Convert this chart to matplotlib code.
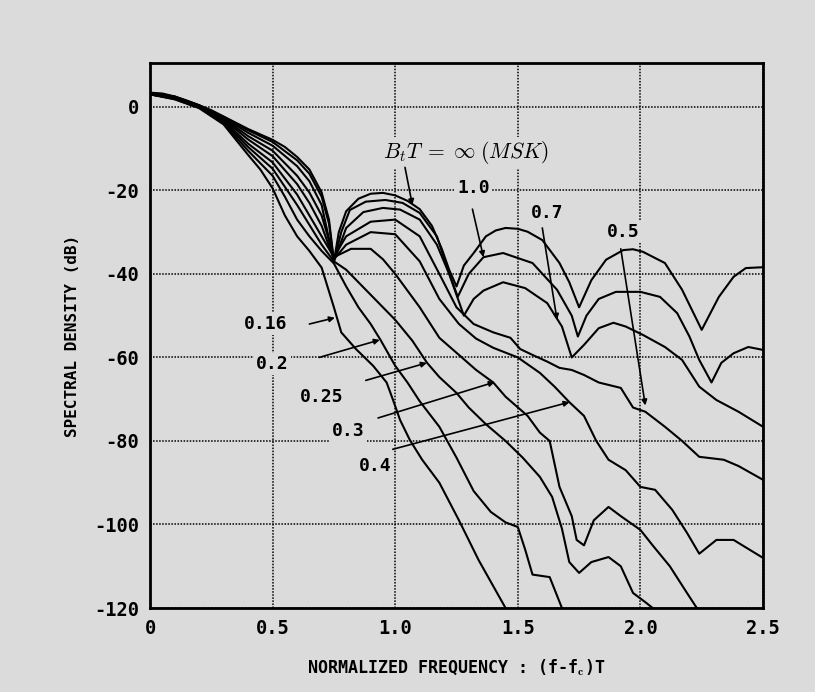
import matplotlib
matplotlib.use("Agg")
import matplotlib.pyplot as plt

# ── Curves ────────────────────────────────────────────────────────────────
# x: normalized frequency (f-fc)T, y: spectral density in dB
BT_LABELS = ["inf", "1.0", "0.7", "0.5", "0.4", "0.3", "0.25", "0.2", "0.16"]

X_MSK = [0, 0.05, 0.1, 0.15, 0.2, 0.25, 0.3, 0.35, 0.4, 0.45, 0.5, 0.55, 0.6,
         0.65, 0.7, 0.73, 0.75, 0.77, 0.8, 0.85, 0.9, 0.95, 1.0, 1.05, 1.1,
         1.15, 1.19, 1.22, 1.25, 1.28, 1.32, 1.37, 1.41, 1.45, 1.5, 1.54, 1.6,
         1.67, 1.71, 1.75, 1.8, 1.86, 1.93, 1.97, 2.01, 2.1, 2.17, 2.25, 2.32,
         2.38, 2.43, 2.5]
Y_MSK = [3.4, 3.2, 2.5, 1.5, 0.4, -0.8, -2.3, -3.8, -5.3, -6.6, -7.9, -9.6,
         -12.0, -15.0, -20.5, -27, -37, -30, -25, -22, -20.8, -20.6, -21.2,
         -22.5, -24.5, -28.5, -34, -39, -43, -38, -35, -31, -29.6, -29, -29.2,
         -29.9, -31.9, -37.4, -42, -48, -41.5, -36.6, -34.3, -34.1, -34.7,
         -37.4, -43.8, -53.4, -45.5, -40.7, -38.6, -38.4]

X_10 = [0, 0.1, 0.2, 0.3, 0.4, 0.5, 0.6, 0.65, 0.7, 0.73, 0.75, 0.78, 0.815,
        0.88, 0.96, 1.03, 1.1, 1.17, 1.215, 1.255, 1.3, 1.36, 1.44, 1.56, 1.66,
        1.72, 1.745, 1.78, 1.83, 1.9, 2.0, 2.08, 2.15, 2.2, 2.24, 2.29, 2.33,
        2.38, 2.44, 2.5]
Y_10 = [3.2, 2.5, 0.4, -2.4, -5.6, -8.4, -12.8, -16, -21.5, -28, -37, -30,
        -24.7, -22.7, -22.3, -23, -25.4, -31, -39, -45.5, -40, -36, -35, -37.4,
        -43.8, -50, -55, -50, -46, -44.3, -44.3, -45.5, -49.4, -55, -60.6, -66,
        -61.3, -59, -57.5, -58.2]

X_07 = [0, 0.1, 0.2, 0.3, 0.4, 0.5, 0.6, 0.65, 0.7, 0.75, 0.8, 0.87, 0.95,
        1.02, 1.1, 1.17, 1.22, 1.28, 1.32, 1.36, 1.44, 1.53, 1.62, 1.68, 1.72,
        1.77, 1.83, 1.89, 1.94, 2.01, 2.1, 2.17, 2.24, 2.31, 2.4, 2.5]
Y_07 = [3.0, 2.4, 0.3, -2.6, -6.2, -9.3, -14.2, -17.8, -23.5, -37, -29, -25.2,
        -24.2, -24.6, -27, -33, -40, -50, -46, -44, -42, -43.4, -47, -52.6, -60,
        -57, -53, -51.7, -52.6, -54.6, -57.5, -60.6, -67, -70.2, -73, -76.6]

X_05 = [0, 0.1, 0.2, 0.3, 0.4, 0.5, 0.6, 0.65, 0.7, 0.75, 0.8, 0.9, 1.0, 1.1,
        1.18, 1.25, 1.32, 1.4, 1.47, 1.51, 1.56, 1.62, 1.67, 1.72, 1.77, 1.83,
        1.92, 1.97, 2.02, 2.1, 2.17, 2.24, 2.34, 2.4, 2.5]
Y_05 = [3.0, 2.3, 0.2, -2.8, -7.0, -10.5, -16.5, -20.5, -26, -36, -31, -27.5,
        -27, -31, -40, -48, -52, -54, -55.3, -58, -59.4, -61, -62.5, -63, -64.2,
        -66, -67.3, -72, -73, -76.6, -80, -83.8, -84.5, -86, -89.3]

X_04 = [0, 0.1, 0.2, 0.3, 0.4, 0.5, 0.6, 0.65, 0.7, 0.75, 0.8, 0.9, 1.0, 1.1,
        1.18, 1.26, 1.33, 1.4, 1.5, 1.59, 1.65, 1.71, 1.77, 1.82, 1.87, 1.94,
        2.0, 2.06, 2.13, 2.19, 2.24, 2.31, 2.38, 2.5]
Y_04 = [3.0, 2.2, 0.1, -3.0, -7.8, -11.8, -18.5, -23, -28.5, -36.5, -33, -30,
        -30.5, -37, -46, -52, -55.5, -57.7, -60, -63.7, -67, -70.7, -74, -80,
        -84.5, -87, -91, -91.7, -96.5, -102, -107, -103.7, -103.7, -108]

X_03 = [0, 0.1, 0.2, 0.3, 0.4, 0.5, 0.6, 0.7, 0.75, 0.82, 0.9, 0.95, 1.0, 1.1,
        1.18, 1.26, 1.33, 1.4, 1.45, 1.54, 1.59, 1.63, 1.67, 1.72, 1.74, 1.77,
        1.81, 1.87, 1.92, 2.0, 2.05, 2.12, 2.19, 2.23]
Y_03 = [3.0, 2.1, 0.0, -3.3, -8.8, -13.3, -21, -31, -36, -34, -34, -36.5, -40,
        -48, -55.3, -59.4, -63, -66, -69.4, -74, -78, -80, -91, -98, -103.7,
        -105, -99, -95.8, -98, -101.3, -105, -110, -116.4, -120]

X_025 = [0, 0.1, 0.2, 0.3, 0.4, 0.5, 0.6, 0.7, 0.75, 0.8, 0.9, 1.0, 1.07, 1.13,
         1.18, 1.25, 1.3, 1.37, 1.45, 1.52, 1.59, 1.64, 1.68, 1.71, 1.75, 1.8,
         1.87, 1.92, 1.97, 2.02, 2.05]
Y_025 = [3.0, 2.0, -0.1, -3.6, -9.6, -14.8, -23.5, -33, -37, -39, -45, -51,
         -56, -61.3, -64.7, -68.5, -72, -76, -80, -84, -88.6, -93.4, -101, -109,
         -111.6, -109, -107.8, -110, -116.4, -118.6, -120]

X_02 = [0, 0.1, 0.2, 0.3, 0.4, 0.5, 0.55, 0.6, 0.65, 0.7, 0.75, 0.8, 0.85,
        0.9, 0.94, 1.0, 1.05, 1.1, 1.18, 1.25, 1.32, 1.39, 1.45, 1.5, 1.53,
        1.56, 1.63, 1.68]
Y_02 = [3.0, 1.9, -0.2, -3.9, -10.5, -16.5, -21.5, -27, -31, -34.5, -37.5,
        -43, -48, -52, -55.8, -62, -66, -70.5, -76.6, -84, -92, -97, -99.5,
        -100.6, -106, -112, -112.6, -120]

X_016 = [0, 0.1, 0.2, 0.3, 0.4, 0.45, 0.5, 0.55, 0.6, 0.65, 0.7, 0.75, 0.78,
         0.84, 0.91, 0.965, 0.99, 1.02, 1.06, 1.11, 1.18, 1.26, 1.34, 1.45]
Y_016 = [3.0, 1.8, -0.3, -4.2, -11.5, -15, -19.5, -26, -31, -34.5, -38.5, -48,
         -54, -58, -62, -66, -70, -75, -79.8, -84.5, -90, -99, -108.5, -120]

XTICKS = [0, 0.5, 1.0, 1.5, 2.0, 2.5]
XTICKLABELS = ["0", "0.5", "1.0", "1.5", "2.0", "2.5"]
YTICKS = [0, -20, -40, -60, -80, -100, -120]

BG = "#dadbda"
plt.rcParams["mathtext.fontset"] = "cm"
TXT = dict(family="DejaVu Sans Mono", fontweight="bold")

fig = plt.figure(figsize=(8.15, 6.92), dpi=100, facecolor=BG)
ax = fig.add_axes([150 / 815, 1 - 608 / 692, 613 / 815, 545 / 692])
ax.set_facecolor(BG)

curves = [(X_MSK, Y_MSK), (X_10, Y_10), (X_07, Y_07), (X_05, Y_05),
          (X_04, Y_04), (X_03, Y_03), (X_025, Y_025), (X_02, Y_02),
          (X_016, Y_016)]
for xs, ys in curves:
    ax.plot(xs, ys, color="black", lw=1.5, zorder=3, solid_joinstyle="round")

ax.set_xlim(0, 2.5)
ax.set_ylim(-120, 10.5)
ax.set_xticks(XTICKS)
ax.set_xticklabels(XTICKLABELS, **TXT, fontsize=13.5)
ax.set_yticks(YTICKS)
ax.set_yticklabels([str(v) for v in YTICKS], **TXT, fontsize=13.5)
ax.tick_params(length=0, pad=8)
ax.grid(True, color="black", linestyle=(0, (1, 1)), linewidth=1.1)
ax.set_axisbelow(True)
for sp in ax.spines.values():
    sp.set_linewidth(2)

ax.set_ylabel("SPECTRAL DENSITY (dB)", **TXT, fontsize=11.5, labelpad=10)
ax.set_xlabel("NORMALIZED FREQUENCY : (f-f$_\\mathbf{c}$)T", **TXT,
              fontsize=12, labelpad=14)

box = dict(facecolor=BG, edgecolor="none", pad=1.5)
arrow = dict(arrowstyle="-|>", color="black", lw=1.2, mutation_scale=8,
             shrinkA=0, shrinkB=0)

ax.text(1.29, -11, r"$B_tT\;=\;\infty\;(MSK)$", fontsize=15.5,
        ha="center", va="center", bbox=box, zorder=2.5)
ax.annotate("", xy=(1.07, -23.5), xytext=(1.04, -14.5), arrowprops=arrow,
            zorder=4)

label_specs = [
    ("1.0", (1.32, -19.5), (1.315, -24.5), (1.36, -36)),
    ("0.7", (1.62, -25.5), (1.6, -29), (1.66, -51)),
    ("0.5", (1.93, -30), (1.92, -34), (2.02, -71.5)),
    ("0.16", (0.47, -52), (0.65, -52), (0.754, -50.5)),
    ("0.2", (0.5, -61.5), (0.69, -60), (0.937, -55.8)),
    ("0.25", (0.7, -69.5), (0.88, -65.5), (1.129, -61.3)),
    ("0.3", (0.81, -77.5), (0.93, -74.5), (1.406, -65.9)),
    ("0.4", (0.92, -86), (0.99, -82), (1.711, -70.7)),
]
for txt, pos, start, tip in label_specs:
    ax.text(*pos, txt, **TXT, fontsize=13, ha="center", va="center",
            bbox=box, zorder=2.5)
    ax.annotate("", xy=tip, xytext=start, arrowprops=arrow, zorder=4)

fig.savefig("out.png", dpi=100, facecolor=BG)
